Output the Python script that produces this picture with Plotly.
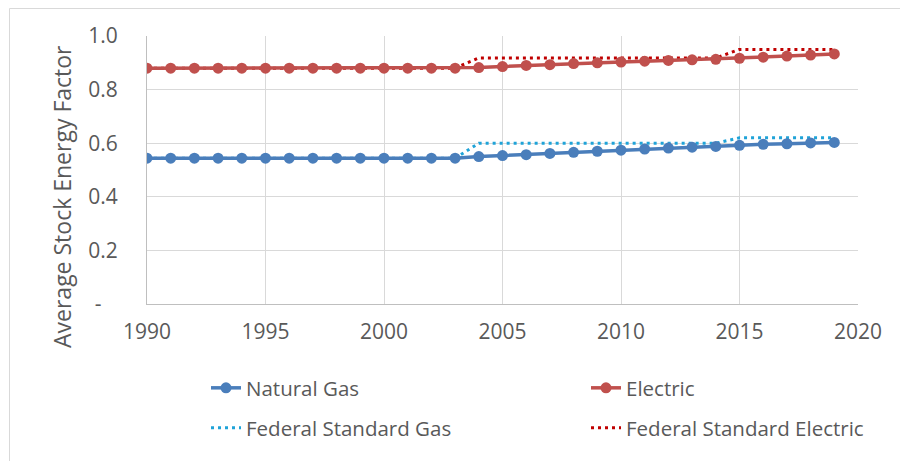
import plotly.graph_objects as go

years = list(range(1990, 2020))
natural_gas = [0.544]*14 + [0.550, 0.554, 0.557, 0.562, 0.566, 0.570, 0.574, 0.578, 0.582, 0.585, 0.588, 0.592, 0.596, 0.598, 0.601, 0.603]
electric = [0.880]*14 + [0.882, 0.886, 0.890, 0.893, 0.897, 0.900, 0.903, 0.906, 0.909, 0.911, 0.913, 0.917, 0.921, 0.925, 0.929, 0.933]
fed_gas = [0.544]*14 + [0.600]*11 + [0.620]*5
fed_electric = [0.880]*14 + [0.918]*11 + [0.950]*5

y_ticks = [0, 0.2, 0.4, 0.6, 0.8, 1.0]
y_labels = ["-\u00a0\u00a0\u00a0", "0.2", "0.4", "0.6", "0.8", "1.0"]
x_ticks = [1990, 1995, 2000, 2005, 2010, 2015, 2020]
y_title = "Average Stock Energy Factor"

FONT = "Open Sans"
GRAY = "#595959"

fig = go.Figure()
fig.add_trace(go.Scatter(x=years, y=fed_gas, name="Federal Standard Gas", mode="lines",
                         line=dict(color="#1fa3d8", width=3, dash="3px,4px"), legend="legend3"))
fig.add_trace(go.Scatter(x=years, y=fed_electric, name="Federal Standard Electric", mode="lines",
                         line=dict(color="#c00000", width=3, dash="3px,4px"), legend="legend4"))
fig.add_trace(go.Scatter(x=years, y=natural_gas, name="Natural Gas", mode="lines+markers",
                         line=dict(color="#4a7ebb", width=3.5),
                         marker=dict(color="#4a7ebb", size=11), legend="legend"))
fig.add_trace(go.Scatter(x=years, y=electric, name="Electric", mode="lines+markers",
                         line=dict(color="#c0504d", width=3.5),
                         marker=dict(color="#c0504d", size=11), legend="legend2"))

def leg(xpx, ypx):
    return dict(orientation="h", font=dict(family=FONT, size=20.5, color=GRAY),
                bgcolor="rgba(0,0,0,0)", xanchor="left", yanchor="middle",
                x=(xpx - 41 - 147) / 711, y=(304 - ypx) / 268)

fig.update_layout(
    width=900, height=461,
    margin=dict(l=147, r=42, t=36, b=157, autoexpand=False),
    paper_bgcolor="white", plot_bgcolor="white",
    font=dict(family=FONT, size=21, color=GRAY),
    showlegend=True,
    xaxis=dict(range=[1990, 2020], tickvals=x_ticks, showgrid=True, gridcolor="#d9d9d9",
               gridwidth=1, showline=True, linecolor="#bfbfbf", linewidth=1,
               ticks="", zeroline=False, automargin=False, ticklabelstandoff=9,
               tickfont=dict(size=21, color=GRAY)),
    yaxis=dict(range=[0, 1.0], tickvals=y_ticks, ticktext=y_labels, showgrid=True,
               gridcolor="#d9d9d9", gridwidth=1, showline=True, linecolor="#bfbfbf",
               linewidth=1, ticks="", zeroline=False, automargin=False, ticklabelstandoff=24,
               tickfont=dict(size=21, color=GRAY)),
    annotations=[dict(text=y_title, textangle=-90, xref="paper", yref="paper",
                      x=(62 - 147) / 711, y=(304 - 197) / 268, xanchor="center", yanchor="middle",
                      showarrow=False, font=dict(family=FONT, size=23, color=GRAY))],
    legend=leg(247, 388),
    legend2=leg(627, 388),
    legend3=leg(247, 428),
    legend4=leg(627, 428),
    shapes=[dict(type="rect", xref="paper", yref="paper",
                 x0=(9.5-147)/711, x1=(920-147)/711, y0=(304-480)/268, y1=(304-8.5)/268,
                 line=dict(color="#d9d9d9", width=1), fillcolor="rgba(0,0,0,0)", layer="below")],
)

fig.write_html("out.html", config={"displayModeBar": False},
               post_script="document.body.style.margin='0';")
